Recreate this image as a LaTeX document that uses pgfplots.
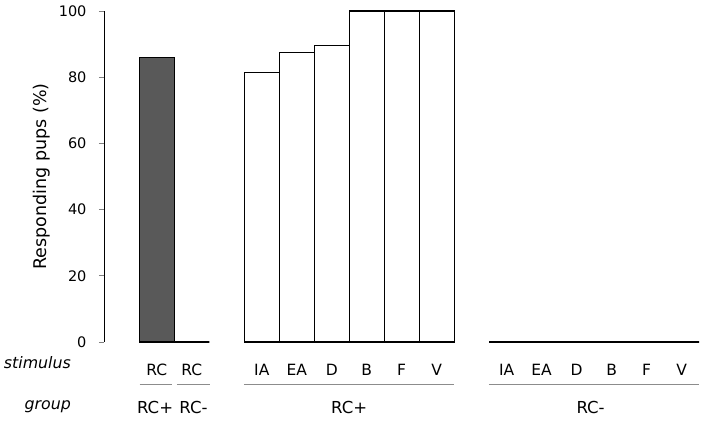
\documentclass[border=0pt]{standalone}
\usepackage{pgfplots}
\pgfplotsset{compat=1.18}
\usepackage{fontspec}
\setmainfont{DejaVu Sans}
\definecolor{darkbar}{HTML}{595959}
\definecolor{grpline}{HTML}{8C8C8C}
\begin{document}
\begin{tikzpicture}[x=1pt,y=1pt,font=\fontsize{15.5}{18}\selectfont]
\useasboundingbox (0,0) rectangle (705,422);
\begin{axis}[at={(104pt,80pt)}, anchor=south west,
  scale only axis, width=601pt, height=331pt,
  xmin=-1.51, xmax=15.67, ymin=0, ymax=100,
  axis x line=bottom, axis y line=left,
  x axis line style={draw=none}, y axis line style={-, line width=0.9pt},
  ytick={0,20,...,100}, tick align=outside, major tick length=5pt,
  ytick pos=left, ytick style={line width=0.9pt},
  yticklabel={\fontsize{14.5}{17}\selectfont\pgfmathprintnumber{\tick}\hspace*{9pt}},
  xtick={0,1,3,4,5,6,7,8,10,11,12,13,14,15},
  xticklabels={RC,RC,IA,EA,D,B,F,V,IA,EA,D,B,F,V},
  x tick style={draw=none},
  xticklabel style={font=\fontsize{15.5}{18}\selectfont, anchor=center, yshift=-23pt},
  /pgf/number format/assume math mode=true,
  ylabel={Responding pups (\%)},
  ylabel style={font=\fontsize{17.5}{20}\selectfont, at={(axis description cs:-0.103,0.5)}, anchor=center},
  clip=false]
% RC stimulus, RC+ group
\addplot[ybar, bar width=1, bar shift=0pt, fill=darkbar, draw=black, line width=1.2pt]
  coordinates {(0,86)};
% RC stimulus, RC- group
\addplot[ybar, bar width=1, bar shift=0pt, fill=white, draw=black, line width=1.2pt]
  coordinates {(1,0)};
% RC+ group
\addplot[ybar, bar width=1, bar shift=0pt, fill=white, draw=black, line width=1.2pt]
  coordinates {(3,81.3) (4,87.5) (5,89.5) (6,100) (7,100) (8,100)};
% RC- group
\addplot[ybar, bar width=1, bar shift=0pt, fill=white, draw=black, line width=1.2pt]
  coordinates {(10,0) (11,0) (12,0) (13,0) (14,0) (15,0)};
% group brackets
\draw[grpline, line width=0.9pt] ([yshift=-42pt]axis cs:-0.49,0) -- ([yshift=-42pt]axis cs:0.43,0);
\draw[grpline, line width=0.9pt] ([yshift=-42pt]axis cs:0.57,0) -- ([yshift=-42pt]axis cs:1.51,0);
\draw[grpline, line width=0.9pt] ([yshift=-42pt]axis cs:2.49,0) -- ([yshift=-42pt]axis cs:8.49,0);
\draw[grpline, line width=0.9pt] ([yshift=-42pt]axis cs:9.49,0) -- ([yshift=-42pt]axis cs:15.51,0);
\begin{scope}[font=\fontsize{16.5}{19}\selectfont]
\node at ([yshift=-65pt]axis cs:-0.05,0) {RC+};
\node at ([yshift=-65pt]axis cs:1.05,0) {RC-};
\node at ([yshift=-65pt]axis cs:5.5,0) {RC+};
\node at ([yshift=-65pt]axis cs:12.4,0) {RC-};
\end{scope}
\end{axis}
\node[anchor=east, inner sep=0pt, font=\fontsize{15.8}{18}\selectfont\itshape] at (71,59) {stimulus};
\node[anchor=east, inner sep=0pt, font=\fontsize{15.8}{18}\selectfont\itshape] at (71,15) {group};
\end{tikzpicture}
\end{document}
